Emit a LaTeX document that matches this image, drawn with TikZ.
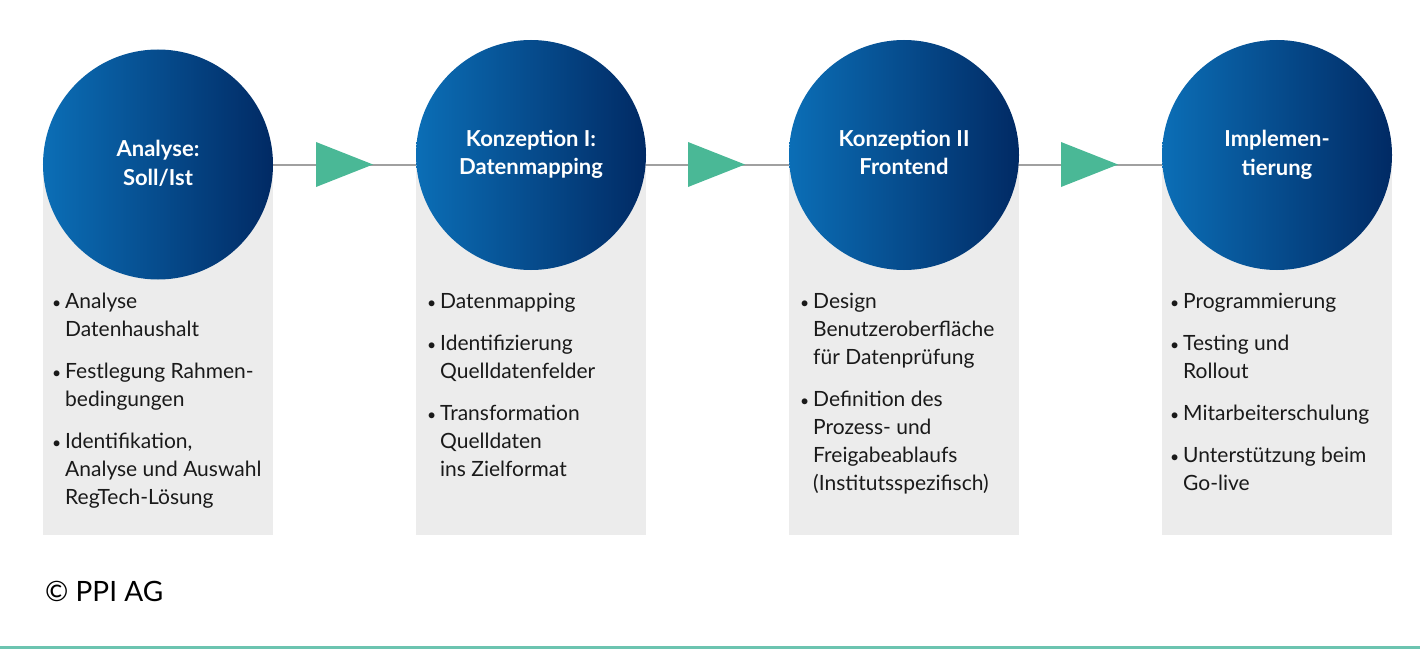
\documentclass[tikz,border=0pt]{standalone}
\usepackage{fontspec}
\setmainfont{Lato}
\usetikzlibrary{shapes.geometric,backgrounds}
\definecolor{blueL}{RGB}{11,110,182}
\definecolor{blueR}{RGB}{1,42,100}
\definecolor{boxgray}{RGB}{236,236,236}
\definecolor{arrowgreen}{RGB}{74,184,150}
\definecolor{linegray}{RGB}{160,160,160}
\definecolor{textdark}{RGB}{26,26,26}
\definecolor{footgreen}{RGB}{108,196,176}
\newcommand{\itm}{\llap{\scalebox{0.75}{•}\hspace{4bp}}}
\begin{document}
\begin{tikzpicture}[x=1bp,y=-1bp,
  stepcircle/.style={circle, minimum size=230bp, inner sep=0pt, outer sep=0pt,
    left color=blueL, right color=blueR, draw=none},
  stepbox/.style={fill=boxgray, minimum width=230bp, inner sep=0pt, outer sep=0pt, anchor=north west},
  steptitle/.style={anchor=base, align=center, text=white,
    font=\fontsize{22bp}{28.5bp}\selectfont\bfseries},
  steplist/.style={anchor=base west, align=left, text=textdark, inner sep=0pt,
    font=\fontsize{21bp}{28bp}\selectfont},
  steparrow/.style={isosceles triangle, isosceles triangle stretches, minimum width=45bp,
    minimum height=57bp, inner sep=0pt, outer sep=0pt, fill=arrowgreen, anchor=apex},
  connector/.style={draw=linegray, line width=2bp}]
\useasboundingbox (0,0) rectangle (1420,649);
% gray boxes
\node[stepbox, minimum height=371bp] (b1) at (43,164) {};
\node[stepbox, minimum height=380bp] (b2) at (416,155) {};
\node[stepbox, minimum height=380bp] (b3) at (789,155) {};
\node[stepbox, minimum height=380bp] (b4) at (1162,155) {};
% circles
\node[stepcircle] (c1) at (158,164.5) {};
\node[stepcircle] (c2) at (531,155) {};
\node[stepcircle] (c3) at (904,155) {};
\node[stepcircle] (c4) at (1277,155) {};
% connectors
\begin{scope}[on background layer]
\draw[connector] (c1.east) -- (c1.east -| c2.west);
\draw[connector] (c2.east |- c1.east) -- (c1.east -| c3.west);
\draw[connector] (c3.east |- c1.east) -- (c1.east -| c4.west);
\end{scope}
\node[steparrow] (t1) at (373,164.5) {};
\node[steparrow] (t2) at (745,164.5) {};
\node[steparrow] (t3) at (1118,164.5) {};
% titles (anchored at the baseline of their last line)
\node[steptitle] (h1) at (158,185) {Analyse:\\Soll/Ist};
\node[steptitle] (h2) at (531,174.5) {Konzeption I:\\Datenmapping};
\node[steptitle] (h3) at (904,174.5) {Konzeption II\\Frontend};
\node[steptitle] (h4) at (1277,175) {Implemen-\\tierung};
% lists (anchored at the baseline of their last line)
\node[steplist] (l1) at (65,504) {\itm Analyse\\Datenhaushalt\\[14bp]\itm Festlegung Rahmen-\\bedingungen\\[14bp]\itm Identifikation,\\Analyse und Auswahl\\RegTech-Lösung};
\node[steplist] (l2) at (440,476) {\itm Datenmapping\\[14bp]\itm Identifizierung\\Quelldatenfelder\\[14bp]\itm Transformation\\Quelldaten\\ins Zielformat};
\node[steplist] (l3) at (813,490) {\itm Design\\Benutzeroberfläche\\für Datenprüfung\\[14bp]\itm Definition des\\Prozess- und\\Freigabeablaufs\\(Institutsspezifisch)};
\node[steplist] (l4) at (1183,490) {\itm Programmierung\\[14bp]\itm Testing und\\Rollout\\[14bp]\itm Mitarbeiterschulung\\[14bp]\itm Unterstützung beim\\Go-live};
% footer
\node[anchor=base west, inner sep=0pt, text=black, font=\fontsize{28bp}{32bp}\selectfont] (copy) at (45,601) {© PPI AG};
\coordinate (fl) at (0,647);
\coordinate (fr) at (1420,647);
\draw[draw=footgreen, line width=3bp] (fl) -- (fr);
\end{tikzpicture}
\end{document}
